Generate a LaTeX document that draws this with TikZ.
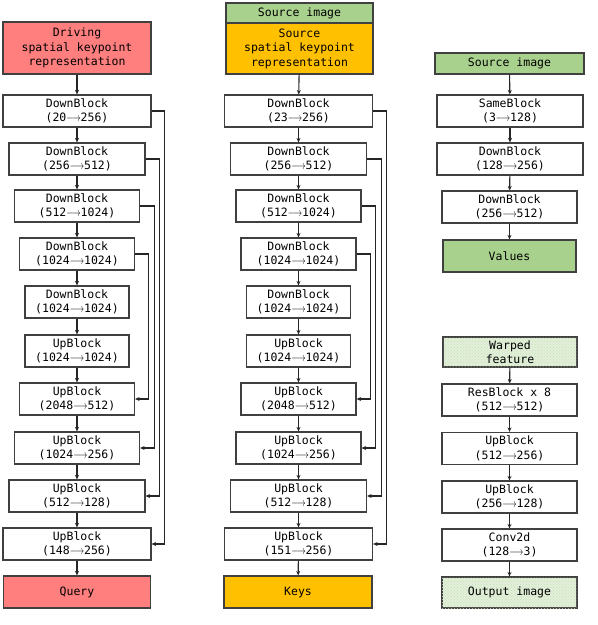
\documentclass[tikz,border=0pt]{standalone}
\usepackage{fontspec}
\usepackage{graphicx}
\setmonofont{DejaVu Sans Mono}
\usetikzlibrary{arrows.meta,patterns}
\definecolor{bord}{HTML}{404040}
\definecolor{redf}{HTML}{FF7F7F}
\definecolor{orgf}{HTML}{FFC000}
\definecolor{grnf}{HTML}{A9D18E}
\definecolor{lgrf}{HTML}{E2EFD9}
\definecolor{lgrp}{HTML}{C8DEB8}
\newcommand\myarr{\scalebox{0.74}[1]{$\longrightarrow$}}
\tikzset{
  blk/.style={draw=bord, line width=1.2pt, fill=white, minimum height=32pt,
    inner sep=0pt, align=center, font=\ttfamily\fontsize{11.5}{14.5}\selectfont},
  redbox/.style={blk, fill=redf},
  orgbox/.style={blk, fill=orgf},
  grnbox/.style={blk, fill=grnf},
  lgrbox/.style={blk, fill=lgrf, postaction={pattern=crosshatch dots, pattern color=lgrp}},
  conn/.style={draw=black!85, line width=1.1pt, -{Stealth[length=4.5pt,width=4pt]}},
}
\begin{document}
\begin{tikzpicture}[x=1pt,y=-1pt]
\useasboundingbox (0,0) rectangle (598,625);
% ---------- left column ----------
\node[redbox, minimum width=148pt, minimum height=52pt] (Ldrv) at (77,48) {Driving\\spatial keypoint\\representation};
\node[blk, minimum width=148pt] (L1) at (77,111) {DownBlock\\(20\myarr256)};
\node[blk, minimum width=136pt] (L2) at (77,159) {DownBlock\\(256\myarr512)};
\node[blk, minimum width=125pt] (L3) at (77,206) {DownBlock\\(512\myarr1024)};
\node[blk, minimum width=115pt] (L4) at (77,254) {DownBlock\\(1024\myarr1024)};
\node[blk, minimum width=104pt] (L5) at (77,302) {DownBlock\\(1024\myarr1024)};
\node[blk, minimum width=104pt] (L6) at (77,351) {UpBlock\\(1024\myarr1024)};
\node[blk, minimum width=115pt] (L7) at (77,399) {UpBlock\\(2048\myarr512)};
\node[blk, minimum width=125pt] (L8) at (77,448) {UpBlock\\(1024\myarr256)};
\node[blk, minimum width=136pt] (L9) at (77,496) {UpBlock\\(512\myarr128)};
\node[blk, minimum width=148pt] (L10) at (77,544) {UpBlock\\(148\myarr256)};
\node[redbox, minimum width=147pt] (Lq) at (77,592) {Query};
\draw[conn] (Ldrv) -- (L1);
\draw[conn] (L1) -- (L2);
\draw[conn] (L2) -- (L3);
\draw[conn] (L3) -- (L4);
\draw[conn] (L4) -- (L5);
\draw[conn] (L5) -- (L6);
\draw[conn] (L6) -- (L7);
\draw[conn] (L7) -- (L8);
\draw[conn] (L8) -- (L9);
\draw[conn] (L9) -- (L10);
\draw[conn] (L10) -- (Lq);
\draw[conn] (L1.east) -- ++(13,0) |- (L10.east);
\draw[conn] (L2.east) -- ++(14,0) |- (L9.east);
\draw[conn] (L3.east) -- ++(14,0) |- (L8.east);
\draw[conn] (L4.east) -- ++(13,0) |- (L7.east);
% ---------- middle column ----------
\node[grnbox, minimum width=147pt, minimum height=20pt] (Msrc) at (299.5,13) {Source image};
\node[orgbox, minimum width=147pt, minimum height=51pt] (Mdrv) at (299.5,48.5) {Source\\spatial keypoint\\representation};
\node[blk, minimum width=148pt] (M1) at (298.5,111) {DownBlock\\(23\myarr256)};
\node[blk, minimum width=136pt] (M2) at (298.5,159) {DownBlock\\(256\myarr512)};
\node[blk, minimum width=125pt] (M3) at (298.5,206) {DownBlock\\(512\myarr1024)};
\node[blk, minimum width=115pt] (M4) at (298.5,254) {DownBlock\\(1024\myarr1024)};
\node[blk, minimum width=104pt] (M5) at (298.5,302) {DownBlock\\(1024\myarr1024)};
\node[blk, minimum width=104pt] (M6) at (298.5,351) {UpBlock\\(1024\myarr1024)};
\node[blk, minimum width=115pt] (M7) at (298.5,399) {UpBlock\\(2048\myarr512)};
\node[blk, minimum width=125pt] (M8) at (298.5,448) {UpBlock\\(1024\myarr256)};
\node[blk, minimum width=136pt] (M9) at (298.5,496) {UpBlock\\(512\myarr128)};
\node[blk, minimum width=148pt] (M10) at (298.5,544) {UpBlock\\(151\myarr256)};
\node[orgbox, minimum width=148pt] (Mk) at (298,592) {Keys};
\draw[conn] (Mdrv) -- (M1);
\draw[conn] (M1) -- (M2);
\draw[conn] (M2) -- (M3);
\draw[conn] (M3) -- (M4);
\draw[conn] (M4) -- (M5);
\draw[conn] (M5) -- (M6);
\draw[conn] (M6) -- (M7);
\draw[conn] (M7) -- (M8);
\draw[conn] (M8) -- (M9);
\draw[conn] (M9) -- (M10);
\draw[conn] (M10) -- (Mk);
\draw[conn] (M1.east) -- ++(13.5,0) |- (M10.east);
\draw[conn] (M2.east) -- ++(14,0) |- (M9.east);
\draw[conn] (M3.east) -- ++(14,0) |- (M8.east);
\draw[conn] (M4.east) -- ++(13.5,0) |- (M7.east);
% ---------- right column, top ----------
\node[grnbox, minimum width=149pt, minimum height=21pt] (Rsrc) at (509.5,63.5) {Source image};
\node[blk, minimum width=146pt] (R1) at (510,111) {SameBlock\\(3\myarr128)};
\node[blk, minimum width=146pt] (R2) at (510,159) {DownBlock\\(128\myarr256)};
\node[blk, minimum width=135pt] (R3) at (509.5,207) {DownBlock\\(256\myarr512)};
\node[grnbox, minimum width=133pt] (Rv) at (509.5,256) {Values};
\draw[conn] (Rsrc) -- (R1);
\draw[conn] (R1) -- (R2);
\draw[conn] (R2) -- (R3);
\draw[conn] (R3) -- (Rv);
% ---------- right column, bottom ----------
\node[lgrbox, minimum width=134pt, minimum height=30pt] (Rw) at (510,352) {Warped\\feature};
\node[blk, minimum width=135pt] (Rr1) at (509.5,400) {ResBlock x 8\\(512\myarr512)};
\node[blk, minimum width=135pt] (Rr2) at (509.5,448.5) {UpBlock\\(512\myarr256)};
\node[blk, minimum width=135pt] (Rr3) at (509.5,497) {UpBlock\\(256\myarr128)};
\node[blk, minimum width=135pt] (Rr4) at (509.5,545) {Conv2d\\(128\myarr3)};
\node[lgrbox, minimum width=135pt, minimum height=31pt] (Ro) at (509.5,592.5) {Output image};
\draw[conn] (Rw) -- (Rr1);
\draw[conn] (Rr1) -- (Rr2);
\draw[conn] (Rr2) -- (Rr3);
\draw[conn] (Rr3) -- (Rr4);
\draw[conn] (Rr4) -- (Ro);
\end{tikzpicture}
\end{document}
